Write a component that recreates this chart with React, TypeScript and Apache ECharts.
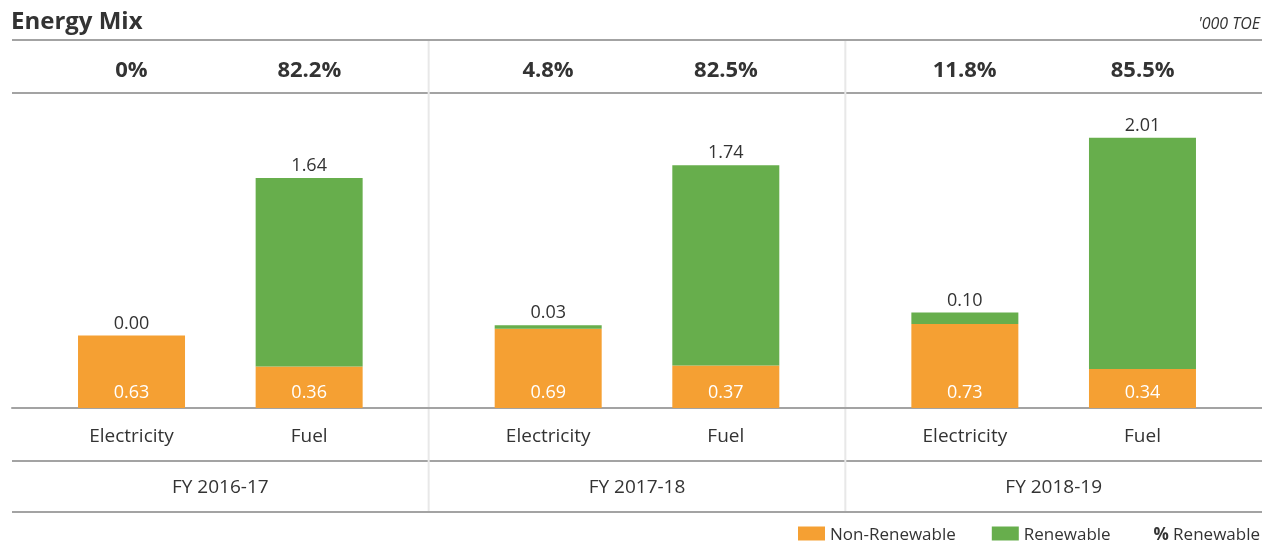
import React, { useEffect, useRef } from "react";
import * as echarts from "echarts";

const years = ["FY 2016-17", "FY 2017-18", "FY 2018-19"];
const barNames = ["Electricity", "Fuel"];
const elecNonRenewable = [0.63, 0.69, 0.73];
const elecRenewable = [0.0, 0.03, 0.1];
const fuelNonRenewable = [0.36, 0.37, 0.34];
const fuelRenewable = [1.64, 1.74, 2.01];
const elecPctRenewable = ["0%", "4.8%", "11.8%"];
const fuelPctRenewable = ["82.2%", "82.5%", "85.5%"];

const ORANGE = "#F5A033";
const GREEN = "#67AE4C";
const TEXT = "#333333";
const LINE = "#a3a3a3";
const FONT = "'Open Sans', 'Noto Sans', sans-serif";

const W = 1262;
const H = 545;
const GRID_LEFT = 12;
const GRID_RIGHT = 0;
const GRID_TOP = 93;
const GRID_BOTTOM_Y = 408;
const BAR_OFFSET = 89;

export default function App() {
  const ref = useRef<HTMLDivElement>(null);
  useEffect(() => {
    document.body.style.margin = "0";
    const chart = echarts.init(ref.current!, undefined, { renderer: "svg" });
    const catW = (W - GRID_LEFT - GRID_RIGHT) / years.length;
    const fmt = (p: any) => Number(p.value).toFixed(2);

    const nonLabel = {
      show: true,
      position: "insideBottom",
      distance: 8,
      color: "#ffffff",
      fontSize: 18,
      fontFamily: FONT,
      formatter: fmt,
    };
    const renLabel = {
      show: true,
      position: "top",
      distance: 5,
      color: TEXT,
      fontSize: 18,
      fontFamily: FONT,
      formatter: fmt,
    };
    const catLabel = (name: string) => ({
      show: true,
      position: "bottom",
      distance: 17,
      color: TEXT,
      fontSize: 19,
      fontFamily: FONT,
      formatter: name,
    });

    const pctTexts: any[] = [];
    years.forEach((_, i) => {
      const cx = GRID_LEFT + (i + 0.5) * catW;
      [elecPctRenewable[i], fuelPctRenewable[i]].forEach((t, j) => {
        pctTexts.push({
          type: "text",
          x: cx + (j === 0 ? -BAR_OFFSET : BAR_OFFSET),
          y: 68,
          style: {
            text: t,
            fill: TEXT,
            font: `bold 22px ${FONT}`,
            textAlign: "center",
            textVerticalAlign: "middle",
          },
        });
      });
    });

    const hLines = [40, 93, 461, 512].map((y) => ({
      type: "line",
      shape: { x1: GRID_LEFT, y1: y, x2: W, y2: y },
      style: { stroke: LINE, lineWidth: 2 },
    }));
    const vLines = [1, 2].map((k) => ({
      type: "line",
      shape: { x1: GRID_LEFT + k * catW, y1: 41, x2: GRID_LEFT + k * catW, y2: 511 },
      style: { stroke: "#e8e8e8", lineWidth: 2 },
    }));

    chart.setOption({
      animation: false,
      textStyle: { fontFamily: FONT },
      grid: {
        left: GRID_LEFT,
        right: GRID_RIGHT,
        top: GRID_TOP,
        bottom: H - GRID_BOTTOM_Y,
        containLabel: false,
      },
      xAxis: {
        type: "category",
        data: years,
        axisLine: { show: true, lineStyle: { color: LINE, width: 2 } },
        axisTick: { show: false },
        axisLabel: { margin: 68, color: TEXT, fontSize: 19, fontFamily: FONT },
        splitLine: { show: false },
      },
      yAxis: {
        type: "value",
        min: 0,
        max: (GRID_BOTTOM_Y - GRID_TOP) / 115,
        show: false,
        splitLine: { show: false },
      },
      legend: {
        data: ["Non-Renewable", "Renewable"],
        left: 793,
        top: 520,
        padding: [5, 5, 0, 5],
        itemWidth: 27,
        itemHeight: 14,
        itemGap: 36,
        icon: "rect",
        textStyle: { color: TEXT, fontSize: 17, fontFamily: FONT },
      },
      series: [
        {
          name: "ElecLabel",
          type: "bar",
          stack: "elec",
          barWidth: 107,
          barGap: "66%",
          data: [0, 0, 0],
          itemStyle: { color: "transparent" },
          label: catLabel(barNames[0]),
          silent: true,
        },
        {
          name: "Non-Renewable",
          type: "bar",
          stack: "elec",
          barWidth: 107,
          data: elecNonRenewable,
          itemStyle: { color: ORANGE },
          label: nonLabel,
        },
        {
          name: "Renewable",
          type: "bar",
          stack: "elec",
          barWidth: 107,
          data: elecRenewable,
          itemStyle: { color: GREEN },
          label: renLabel,
        },
        {
          name: "FuelLabel",
          type: "bar",
          stack: "fuel",
          barWidth: 107,
          data: [0, 0, 0],
          itemStyle: { color: "transparent" },
          label: catLabel(barNames[1]),
          silent: true,
        },
        {
          name: "Non-Renewable",
          type: "bar",
          stack: "fuel",
          barWidth: 107,
          data: fuelNonRenewable,
          itemStyle: { color: ORANGE },
          label: nonLabel,
        },
        {
          name: "Renewable",
          type: "bar",
          stack: "fuel",
          barWidth: 107,
          data: fuelRenewable,
          itemStyle: { color: GREEN },
          label: renLabel,
        },
      ],
      graphic: [
        {
          type: "text",
          x: 11,
          y: 19,
          style: {
            text: "Energy Mix",
            fill: TEXT,
            font: `bold 24px ${FONT}`,
            textAlign: "left",
            textVerticalAlign: "middle",
          },
        },
        {
          type: "text",
          x: 1260,
          y: 23,
          style: {
            text: "'000 TOE",
            fill: TEXT,
            font: `italic 16px ${FONT}`,
            textAlign: "right",
            textVerticalAlign: "middle",
          },
        },
        ...hLines,
        ...vLines,
        ...pctTexts,
        {
          type: "text",
          x: 1260,
          y: 533,
          style: {
            text: "{b|%} Renewable",
            rich: {
              b: { fontWeight: "bold", fontSize: 17, lineHeight: 16, fill: TEXT, fontFamily: FONT },
            },
            fill: TEXT,
            font: `17px ${FONT}`,
            lineHeight: 16,
            textAlign: "right",
            textVerticalAlign: "middle",
          },
        },
      ],
    });
    return () => chart.dispose();
  }, []);
  return (
    <div
      ref={ref}
      style={{ position: "fixed", left: 0, top: 0, width: W, height: H }}
    />
  );
}
